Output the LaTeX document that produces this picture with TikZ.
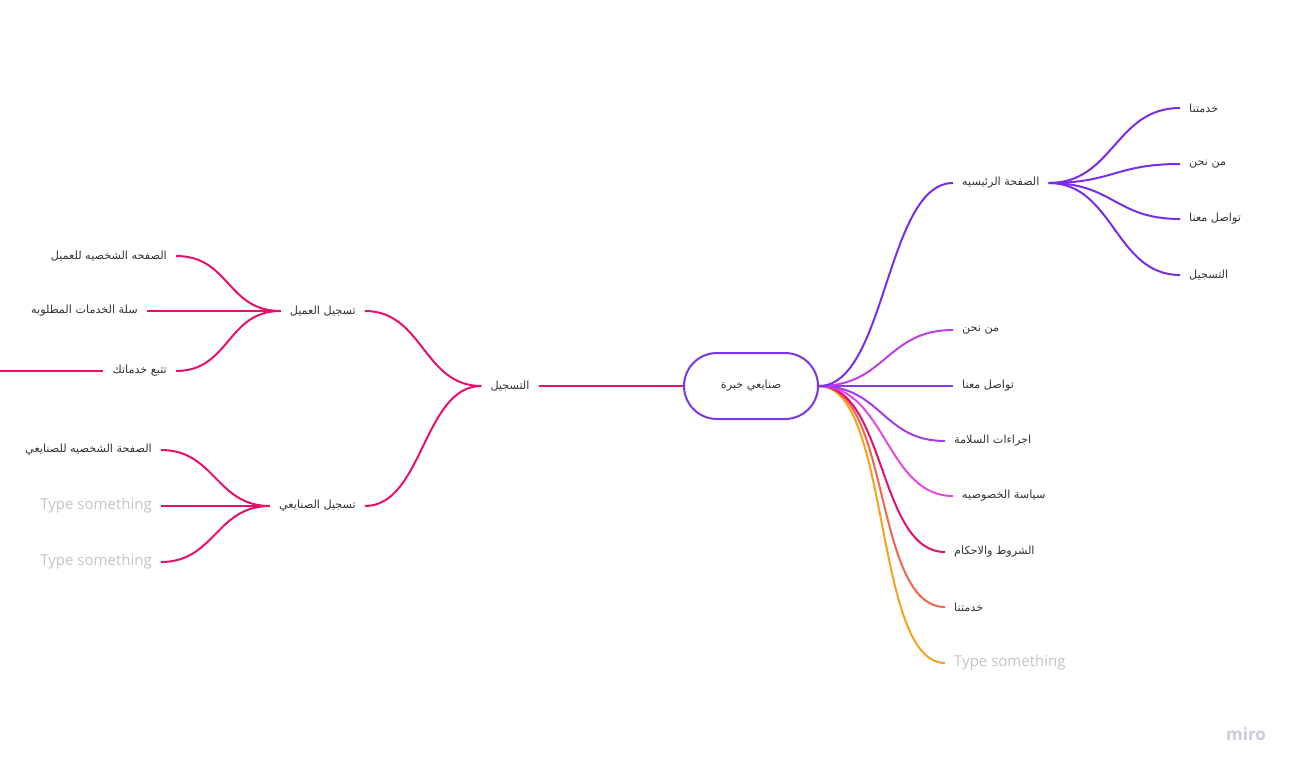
\documentclass[tikz,border=0pt]{standalone}
\usepackage{fontspec}
\setmainfont{Open Sans}
\newfontfamily\arabicfont[Script=Arabic]{DejaVu Sans}
\TeXXeTstate=1
\newcommand{\artxt}[1]{{\arabicfont\beginR #1\endR}}

\definecolor{ink}{HTML}{333333}
\definecolor{ghost}{HTML}{C4C4C4}
\definecolor{wmark}{HTML}{C9CBD7}
\definecolor{cRoot}{HTML}{7B35E4}
\definecolor{cHome}{HTML}{7A2CE8}
\definecolor{cAbout}{HTML}{BF3FE8}
\definecolor{cContact}{HTML}{8A3BE8}
\definecolor{cSafety}{HTML}{A43DE8}
\definecolor{cPrivacy}{HTML}{E54AE0}
\definecolor{cTerms}{HTML}{E0106E}
\definecolor{cServ}{HTML}{F0664A}
\definecolor{cType}{HTML}{F5A31A}
\definecolor{cReg}{HTML}{E8106E}

\begin{document}
\begin{tikzpicture}[x=1pt,y=-1pt,
	branch/.style={to path={.. controls +(#1,0) and +(-#1,0) .. (\tikztotarget)}}]
		\useasboundingbox (0,0) rectangle (1297,770);

		\begin{scope}[every node/.style={font=\fontsize{11.2}{14}\selectfont, text=ink, inner xsep=9pt, inner ysep=2pt},
			ghosttxt/.style={text=ghost, font=\fontsize{15}{18}\selectfont}]
			\node[draw=cRoot, line width=2pt, rounded corners=33pt, minimum width=134pt, minimum height=66pt, inner sep=0pt] (root) at (751,386) {\artxt{صنايعي خبرة}};

			\node[anchor=west] (home) at (953,183) {\artxt{الصفحة الرئيسيه}};
			\node[anchor=west] (hServ) at (1180,108) {\artxt{خدمتنا}};
			\node[anchor=west] (hAbout) at (1180,164) {\artxt{من نحن}};
			\node[anchor=west] (hContact) at (1180,219) {\artxt{تواصل معنا}};
			\node[anchor=west] (hReg) at (1180,275) {\artxt{التسجيل}};
			\node[anchor=west] (about) at (953,330) {\artxt{من نحن}};
			\node[anchor=west] (contact) at (953,386) {\artxt{تواصل معنا}};
			\node[anchor=west] (safety) at (945,441) {\artxt{اجراءات السلامة}};
			\node[anchor=west] (privacy) at (953,496) {\artxt{سياسة الخصوصيه}};
			\node[anchor=west] (terms) at (945,552) {\artxt{الشروط والاحكام}};
			\node[anchor=west] (serv) at (945,607) {\artxt{خدمتنا}};
			\node[anchor=west, ghosttxt] (rType) at (945,663) {Type something};

			\node (reg) at (510,386) {\artxt{التسجيل}};
			\node[anchor=east] (client) at (365,311) {\artxt{تسجيل العميل}};
			\node[anchor=east] (worker) at (365,506) {\artxt{تسجيل الصنايعي}};
			\node[anchor=east] (cProfile) at (176,256) {\artxt{الصفحه الشخصيه للعميل}};
			\node[anchor=east] (cCart) at (147,311) {\artxt{سلة الخدمات المطلوبه}};
			\node[anchor=east] (cTrack) at (176,371) {\artxt{تتبع خدماتك}};
			\node[anchor=east] (wProfile) at (161,450) {\artxt{الصفحة الشخصيه للصنايعي}};
			\node[anchor=east, ghosttxt] (wType1) at (161,506) {Type something};
			\node[anchor=east, ghosttxt] (wType2) at (161,562) {Type something};
		\end{scope}
		\coordinate (offL) at (0,371);

		\node[text=wmark, font=\fontsize{17}{20}\selectfont\bfseries] (miro) at (1246,734) {miro};

		% right side
		\begin{scope}[every edge/.style={draw, line width=2pt}]
			\path (root.east) edge[branch=72, cType] (rType.west);
			\path (root.east) edge[branch=72, cServ] (serv.west);
			\path (root.east) edge[branch=67, cTerms] (terms.west);
			\path (root.east) edge[branch=67, cPrivacy] (privacy.west);
			\path (root.east) edge[branch=63, cSafety] (safety.west);
			\path (root.east) edge[branch=67, cContact] (contact.west);
			\path (root.east) edge[branch=67, cAbout] (about.west);
			\path (root.east) edge[branch=67, cHome] (home.west);
			\path (home.east) edge[branch=65, cHome] (hServ.west);
			\path (home.east) edge[branch=65, cHome] (hAbout.west);
			\path (home.east) edge[branch=65, cHome] (hContact.west);
			\path (home.east) edge[branch=65, cHome] (hReg.west);
		\end{scope}

		% left side
		\begin{scope}[every edge/.style={draw=cReg, line width=2pt}]
			\path (reg.east) edge (root.west);
			\path (client.east) edge[branch=58] (reg.west);
			\path (worker.east) edge[branch=58] (reg.west);
			\path (cProfile.east) edge[branch=54] (client.west);
			\path (cCart.east) edge[branch=68] (client.west);
			\path (cTrack.east) edge[branch=54] (client.west);
			\path (offL) edge (cTrack.west);
			\path (wProfile.east) edge[branch=54] (worker.west);
			\path (wType1.east) edge[branch=54] (worker.west);
			\path (wType2.east) edge[branch=54] (worker.west);
		\end{scope}

	\end{tikzpicture}
\end{document}
